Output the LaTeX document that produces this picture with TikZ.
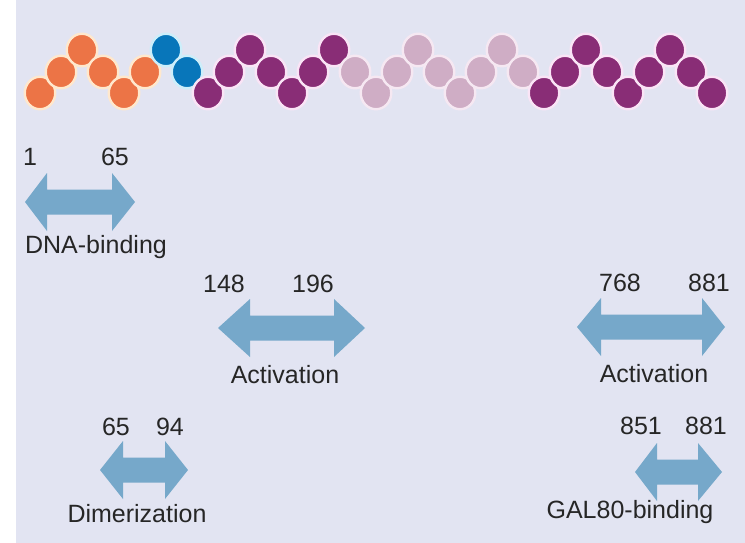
\documentclass[tikz,border=0pt]{standalone}
\usepackage{fontspec}
\setmainfont{Liberation Sans}
\usetikzlibrary{shapes.geometric}
\definecolor{bg}{RGB}{226,228,242}
\definecolor{orng}{RGB}{236,116,70}
\definecolor{orngH}{RGB}{255,232,205}
\definecolor{blu}{RGB}{8,118,186}
\definecolor{bluH}{RGB}{205,238,250}
\definecolor{purp}{RGB}{137,45,118}
\definecolor{purpH}{RGB}{250,228,246}
\definecolor{pale}{RGB}{207,173,197}
\definecolor{paleH}{RGB}{246,232,242}
\definecolor{arrowc}{RGB}{118,168,202}
\definecolor{txt}{RGB}{38,38,38}
\newcommand\dblarr[6]{%
  % #1 name, #2 left tip x, #3 right tip x, #4 y, #5 left head length, #6 right head length
  \fill[arrowc] (#2,#4) -- (#2+#5,#4-29) -- (#2+#5,#4-12.5) -- (#3-#6,#4-12.5)
    -- (#3-#6,#4-29) -- (#3,#4) -- (#3-#6,#4+29) -- (#3-#6,#4+12.5)
    -- (#2+#5,#4+12.5) -- (#2+#5,#4+29) -- cycle;
  \coordinate (#1) at ({(#2+#3)/2},#4);
}
\begin{document}
\begin{tikzpicture}[x=1pt,y=-1pt,
  bead/.style={ellipse,minimum width=30.5,minimum height=32.5,inner sep=0pt,line width=2.4pt},
  lbl/.style={anchor=base,text=txt,font=\fontsize{25}{28}\selectfont,inner sep=0pt}]
\useasboundingbox (0,0) rectangle (745,543);
\fill[white] (0,0) rectangle (745,543);
\fill[bg] (16,0) rectangle (745,543);
% chain of beads
\foreach \i in {0,...,32}{
  \pgfmathsetmacro\bx{40+21*\i}
  \pgfmathtruncatemacro\m{mod(\i,4)}
  \ifcase\m \def\by{93}\or\def\by{72}\or\def\by{50}\or\def\by{72}\fi
  \ifnum\i<6 \def\bc{orng}\def\bh{orngH}\else
   \ifnum\i<8 \def\bc{blu}\def\bh{bluH}\else
    \ifnum\i<15 \def\bc{purp}\def\bh{purpH}\else
     \ifnum\i<24 \def\bc{pale}\def\bh{paleH}\else
      \def\bc{purp}\def\bh{purpH}\fi\fi\fi\fi
  \node[bead,fill=\bc,draw=\bh] (b\i) at (\bx,\by) {};
}
% DNA-binding
\dblarr{aDNA}{25}{135}{202}{22}{23}
\node[lbl] (n1) at (30,165) {1};
\node[lbl] (n65a) at (115,165) {65};
\node[lbl] (tDNA) at (96,253) {DNA-binding};
% Activation 1
\dblarr{aAct1}{218}{365}{328}{32}{31}
\node[lbl] (n148) at (224,292) {148};
\node[lbl] (n196) at (313,292) {196};
\node[lbl] (tAct1) at (285,383) {Activation};
% Activation 2
\dblarr{aAct2}{577}{725}{327}{24}{23}
\node[lbl] (n768) at (620,291) {768};
\node[lbl] (n881a) at (709,291) {881};
\node[lbl] (tAct2) at (654,382) {Activation};
% Dimerization
\dblarr{aDim}{100}{188}{470}{23}{23}
\node[lbl] (n65b) at (116,435) {65};
\node[lbl] (n94) at (170,435) {94};
\node[lbl] (tDim) at (137,522) {Dimerization};
% GAL80-binding
\dblarr{aGAL}{635}{722}{472}{22}{24}
\node[lbl] (n851) at (641,434) {851};
\node[lbl] (n881b) at (706,434) {881};
\node[lbl] (tGAL) at (630,518) {GAL80-binding};
\end{tikzpicture}
\end{document}
